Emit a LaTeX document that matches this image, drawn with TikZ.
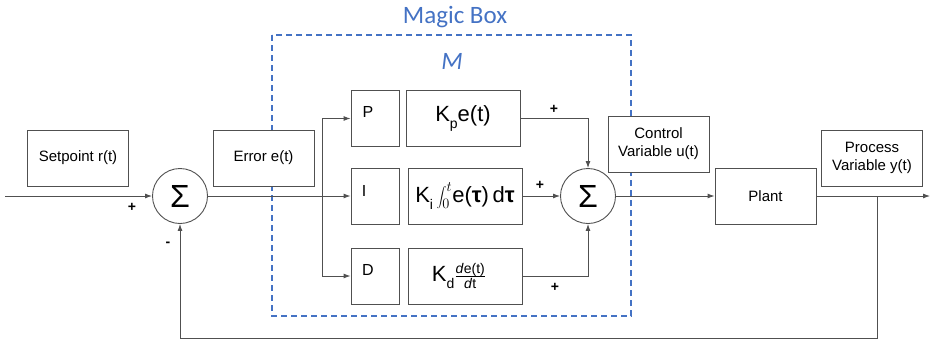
\documentclass[tikz,border=0pt]{standalone}
\usepackage{fontspec}
\setmainfont{Liberation Sans}
\newfontfamily\magicfont{Carlito}
\usetikzlibrary{arrows.meta}
\definecolor{magicblue}{HTML}{4472C4}
\definecolor{wire}{HTML}{505050}

\begin{document}
\begin{tikzpicture}[x=1pt,y=-1pt,
    block/.style={draw=wire, fill=white, line width=0.9pt, minimum width=101pt, minimum height=56pt, inner sep=0pt, align=center, font=\fontsize{15}{18}\selectfont},
    pidbox/.style={block, minimum width=48pt},
    gainbox/.style={block, minimum width=114pt, font=\fontsize{22}{22}\selectfont},
    sumnode/.style={draw=wire, fill=white, line width=0.9pt, circle, minimum size=55pt, inner sep=0pt, font=\fontsize{32}{32}\selectfont},
    signal/.style={draw=wire, line width=0.9pt, -{Latex[length=7pt,width=5pt]}},
    wireline/.style={draw=wire, line width=0.9pt},
    sign/.style={inner sep=0pt, font=\fontsize{14}{14}\selectfont\bfseries},
    sublbl/.style={inner sep=0pt, font=\fontsize{16}{18}\selectfont}]
    \useasboundingbox (0,0) rectangle (931,341);

    % Draw the magic box frame
    \draw[magicblue, line width=1.4pt, dash pattern=on 6pt off 4pt] (272,35) rectangle (631,316);
    \node[magicblue] (magic) at (455,17) {\magicfont\fontsize{25}{25}\selectfont Magic Box};
    \node[magicblue] (mlbl) at (452,61) {\magicfont\itshape\fontsize{25}{25}\selectfont M};

    % Draw the outer blocks
    \node[block] (setpoint) at (78,158) {Setpoint r(t)};
    \node[block] (error) at (263.5,158) {Error e(t)};
    \node[block] (control) at (658.5,144) {Control\\Variable u(t)};
    \node[block] (plant) at (765.5,196) {Plant};
    \node[block] (process) at (872,158) {Process\\Variable y(t)};

    % Draw the summing junctions
    \node[sumnode] (sum1) at (180,196) {Σ};
    \node[sumnode] (sum2) at (588,196) {Σ};

    % Draw the P, I and D branches
    \node[pidbox] (P) at (375,118.5) {};
    \node[pidbox] (I) at (375,196) {};
    \node[pidbox] (D) at (375,276) {};
    \node[sublbl] (Plbl) at (368,112) {P};
    \node[sublbl] (Ilbl) at (364,191) {I};
    \node[sublbl] (Dlbl) at (368,270) {D};

    \node[gainbox] (Kp) at (463,118.5) {K\raisebox{-7pt}{\fontsize{14}{14}\selectfont p}e(t)};
    \node[gainbox] (Ki) at (465,196) {K\raisebox{-7pt}{\fontsize{14}{14}\selectfont i}\,$\displaystyle\int_0^t$e(\textbf{τ})\,d\textbf{τ}};
    \node[gainbox] (Kd) at (465,276) {K\raisebox{-7pt}{\fontsize{14}{14}\selectfont d}$\frac{\hbox{\fontsize{14}{14}\selectfont\textit{d}e(t)}}{\hbox{\fontsize{14}{14}\selectfont\textit{d}t}}$\hspace{12pt}};

    % Draw the coordinates for the free ends
    \coordinate (in) at (5,196);
    \coordinate (branch) at (322,196);
    \coordinate (tap) at (877,196);
    \coordinate (out) at (930,196);
    \coordinate (fbR) at (877,338);
    \coordinate (fbL) at (180,338);

    % Draw the signal arrows
    \draw[signal] (in) -- (sum1);
    \draw[wireline] (sum1) -- (branch);
    \draw[signal] (branch) -- (I.west);
    \draw[signal] (branch) |- (P.west);
    \draw[signal] (branch) |- (D.west);
    \draw[signal] (Kp.east) -| (sum2.north);
    \draw[signal] (Ki.east) -- (sum2.west);
    \draw[signal] (Kd.east) -| (sum2.south);
    \draw[signal] (sum2) -- (plant);
    \draw[signal] (plant) -- (out);
    \draw[signal] (tap) -- (fbR) -- (fbL) -- (sum1.south);

    % Draw the signs
    \node[sign] (plus1) at (132,207) {+};
    \node[sign] (minus1) at (168,244) {-};
    \node[sign] (plusP) at (554,109) {+};
    \node[sign] (plusI) at (540,185) {+};
    \node[sign] (plusD) at (555,287) {+};
\end{tikzpicture}
\end{document}
